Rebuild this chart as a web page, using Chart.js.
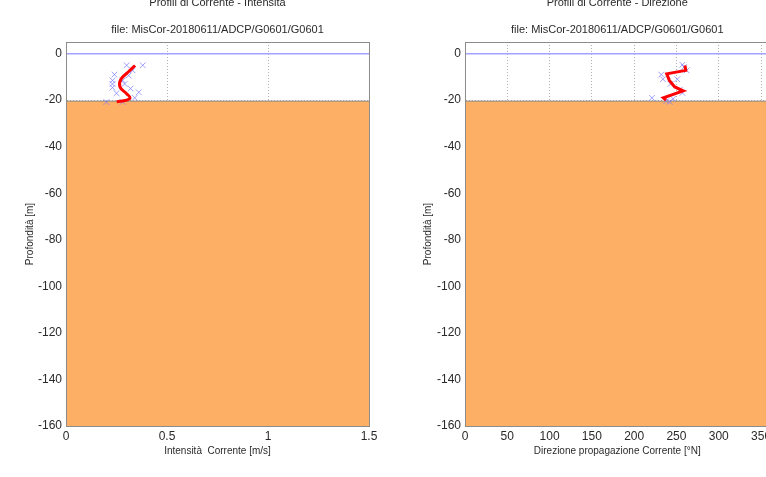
<!DOCTYPE html>
<html>
<head>
<meta charset="utf-8">
<script src="https://cdn.jsdelivr.net/npm/chart.js@4.4.0/dist/chart.umd.min.js"></script>
<style>
body { margin:0; background:#fff; overflow:hidden; width:766px; height:477px; position:relative; }
canvas { position:absolute; }
</style>
</head>
<body>
<canvas id="c1" width="383" height="481" style="left:0;top:-4px"></canvas>
<canvas id="c2" width="380" height="481" style="left:400px;top:-4px"></canvas>
<script>
const fileLabel = 'file: MisCor-20180611/ADCP/G0601/G0601';
const depthTicks = [-160, -140, -120, -100, -80, -60, -40, -20, 0];
const seabed = -20.4;

// intensita: misure (x blu) e profilo (rosso)
const intTicks = [0, 0.5, 1, 1.5];
const intMisDepth = [-5, -5, -7.2, -9, -9.4, -11.5, -11.5, -13, -13, -14.6, -15, -16.6, -17, -19, -20.8, -20.8];
const intMisVal = [0.30, 0.38, 0.33, 0.24, 0.31, 0.23, 0.28, 0.23, 0.29, 0.23, 0.32, 0.36, 0.25, 0.34, 0.20, 0.28];
const intProfDepth = [-5.1, -7.9, -11, -14.3, -17.2, -19, -20, -20.7];
const intProfVal = [0.342, 0.308, 0.272, 0.267, 0.30, 0.317, 0.30, 0.251];

// direzione
const dirTicks = [0, 50, 100, 150, 200, 250, 300, 350];
const dirMisDepth = [-4.8, -5.8, -7.2, -9, -11, -11, -13, -15.5, -16.9, -19, -19.4, -20.4, -20.7];
const dirMisVal = [257, 259, 262, 232, 234, 251, 243, 254, 257, 221, 246, 238, 242];
const dirProfDepth = [-5.1, -7.2, -8.7, -11.5, -14.3, -16, -19, -20];
const dirProfVal = [260, 261, 238.5, 241.6, 248, 258, 234.5, 237.7];

const txt = '#2a2a2a';
const fam = '"Liberation Sans", Arial, sans-serif';

const boxPlugin = {
  id: 'box',
  afterDraw(chart) {
    const a = chart.chartArea, ctx = chart.ctx;
    ctx.save();
    ctx.strokeStyle = '#8c8c8c';
    ctx.lineWidth = 1;
    ctx.strokeRect(Math.round(a.left) + 0.5, Math.round(a.top) + 0.5, Math.round(a.right - a.left), Math.round(a.bottom - a.top));
    ctx.restore();
  }
};

function pts(xs, ys) { return xs.map((v, i) => ({ x: v, y: ys[i] })); }

function drawProfile(id, o) {
  new Chart(document.getElementById(id), {
    type: 'scatter',
    data: {
      datasets: [
        { data: pts(o.profVal, o.profDepth), showLine: true, borderColor: '#ff0000', borderWidth: 3,
          pointRadius: 0, tension: o.tension, order: 1 },
        { data: pts(o.misVal, o.misDepth), pointStyle: 'crossRot', pointRadius: 4,
          borderColor: 'rgba(120,120,255,0.7)', borderWidth: 1, order: 2 },
        { data: [{ x: 0, y: 0 }, { x: o.xMax, y: 0 }], showLine: true, borderColor: '#a3a3ff',
          borderWidth: 1.5, pointRadius: 0, order: 3 },
        { data: [{ x: 0, y: seabed }, { x: o.xMax, y: seabed }], showLine: true, fill: 'start',
          backgroundColor: '#fdb065', borderColor: '#8a8a8a', borderWidth: 1, pointRadius: 0, order: 4 }
      ]
    },
    options: {
      responsive: false,
      animation: false,
      events: [],
      layout: { padding: { left: 0, right: o.padRight, top: 0, bottom: 0 } },
      plugins: {
        legend: { display: false },
        tooltip: { enabled: false },
        title: { display: true, text: o.title, fullSize: false, color: txt,
          font: { family: fam, size: 11, weight: 'normal' }, padding: { top: 0, bottom: 14.2 } },
        subtitle: { display: true, text: fileLabel, fullSize: false, color: txt,
          font: { family: fam, size: 11, weight: 'normal' }, padding: { top: 0, bottom: 5.4 } }
      },
      scales: {
        x: {
          type: 'linear', min: 0, max: o.xMax,
          afterBuildTicks: s => { s.ticks = o.xTicks.map(v => ({ value: v })); },
          afterFit: s => { s.height = 51; },
          ticks: { color: txt, font: { family: fam, size: 12 }, padding: 3, maxRotation: 0,
            callback: v => String(v) },
          grid: { color: 'rgba(0,0,0,0.3)', drawTicks: false },
          border: { display: true, color: '#8c8c8c', dash: [1, 2] },
          title: { display: true, text: o.xTitle, color: txt, font: { family: fam, size: 10 },
            padding: { top: 0, bottom: 20 } }
        },
        y: {
          type: 'linear', min: -160, max: 5,
          afterBuildTicks: s => { s.ticks = depthTicks.map(v => ({ value: v })); },
          afterFit: s => { s.width = o.yWidth; },
          ticks: { color: txt, font: { family: fam, size: 12 }, padding: 4 },
          grid: { color: 'rgba(0,0,0,0.3)', drawTicks: false },
          border: { display: true, color: '#8c8c8c', dash: [1, 2] },
          title: { display: true, text: 'Profondità [m]', color: txt, font: { family: fam, size: 10 },
            padding: { top: o.yTitlePad, bottom: 0 } }
        }
      }
    },
    plugins: [boxPlugin]
  });
}

drawProfile('c1', {
  title: 'Profili di Corrente - Intensità',
  xTitle: 'Intensità  Corrente [m/s]',
  xMax: 1.5, xTicks: intTicks,
  misVal: intMisVal, misDepth: intMisDepth,
  profVal: intProfVal, profDepth: intProfDepth,
  tension: 0.4, yWidth: 66, yTitlePad: 24, padRight: 14
});

drawProfile('c2', {
  title: 'Profili di Corrente - Direzione',
  xTitle: 'Direzione propagazione Corrente [°N]',
  xMax: 360, xTicks: dirTicks,
  misVal: dirMisVal, misDepth: dirMisDepth,
  profVal: dirProfVal, profDepth: dirProfDepth,
  tension: 0, yWidth: 65, yTitlePad: 22, padRight: 10.5
});
</script>
</body>
</html>
